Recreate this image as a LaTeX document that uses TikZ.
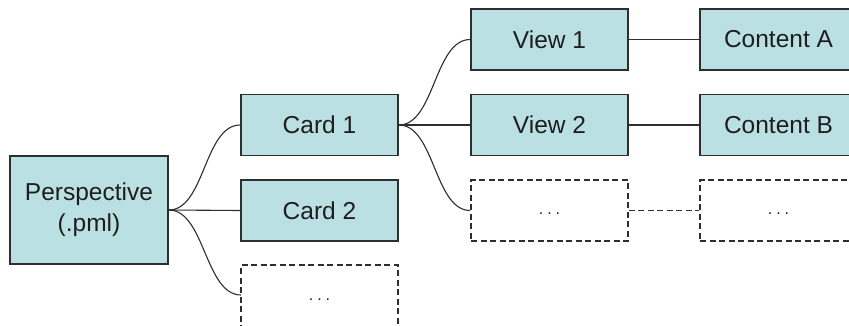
\documentclass[tikz,border=0pt]{standalone}
\usepackage{fontspec}
\setmainfont{Liberation Sans}
\definecolor{boxfill}{HTML}{BBE0E3}
\definecolor{boxline}{HTML}{2E2E2E}
\definecolor{txt}{HTML}{1E1E1E}
\newcommand{\mydots}{\raisebox{-8pt}{\fontsize{16}{18}\selectfont .\hspace{4pt}.\hspace{4pt}.}}
\begin{document}
\begin{tikzpicture}[x=1pt,y=-1pt,
  box/.style={draw=boxline,fill=boxfill,line width=1.6pt,minimum width=157pt,minimum height=61pt,inner sep=0pt,text=txt,font=\fontsize{24.5}{31}\selectfont,align=center},
  dbox/.style={box,fill=white,dash pattern=on 6pt off 3.5pt},
  conn/.style={draw=boxline,line width=1.1pt},
  dconn/.style={conn,dash pattern=on 6pt off 3.5pt}]
\useasboundingbox (0,0) rectangle (849,325);
\clip (0,0) rectangle (849,325);
\fill[white] (0,0) rectangle (849,325);
\node[box,minimum width=158pt,minimum height=108pt] (p) at (89,210) {Perspective\\(.pml)};
\node[box] (c1) at (319.5,125) {Card 1};
\node[box] (c2) at (319.5,210.5) {Card 2};
\node[dbox,minimum height=63pt] (c3) at (319.5,296.5) {\mydots};
\coordinate (c3w) at (241,295);
\node[box] (v1) at (549.5,39.5) {View 1};
\node[box] (v2) at (549.5,125) {View 2};
\node[dbox] (v3) at (549.5,210.5) {\mydots};
\node[box] (a1) at (778.5,39.5) {Content A};
\node[box] (a2) at (778.5,125) {Content B};
\node[dbox] (a3) at (778.5,210.5) {\mydots};
\draw[conn] (p.east) .. controls ++(36,0) and ++(-36,0) .. (c1.west);
\draw[conn] (p.east) -- (c2.west);
\draw[conn] (p.east) .. controls ++(36,0) and ++(-36,0) .. (c3w);
\draw[conn] (c1.east) .. controls ++(36,0) and ++(-36,0) .. (v1.west);
\draw[conn] (c1.east) -- (v2.west);
\draw[conn] (c1.east) .. controls ++(36,0) and ++(-36,0) .. (v3.west);
\draw[conn] (v1.east) -- (a1.west);
\draw[conn] (v2.east) -- (a2.west);
\draw[dconn] (v3.east) -- (a3.west);
\end{tikzpicture}
\end{document}
